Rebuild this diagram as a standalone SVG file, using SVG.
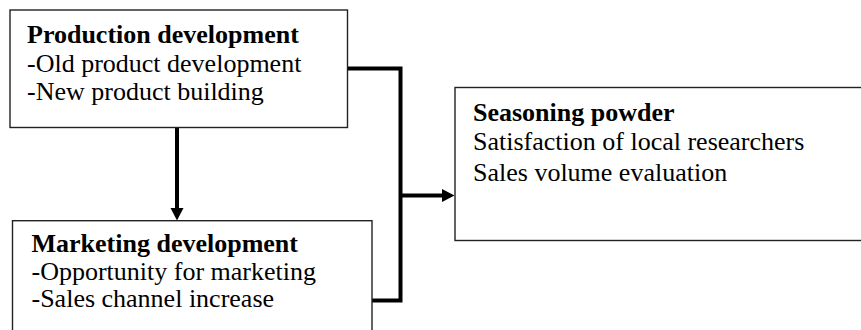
<svg xmlns="http://www.w3.org/2000/svg" width="861" height="330" viewBox="0 0 861 330">
<defs>
<style>
.box{fill:#fff;stroke:#222;stroke-width:1.4}
.t{font-family:'Liberation Serif','Times New Roman','DejaVu Serif',serif;font-size:26px;fill:#000}
.b{font-weight:bold}
.c{fill:none;stroke:#000;stroke-width:4;stroke-linejoin:miter;stroke-linecap:butt}
</style>
<marker id="ah" markerUnits="userSpaceOnUse" markerWidth="14" markerHeight="14" refX="0.5" refY="6.5" orient="auto">
<polygon points="0,0 12.5,6.5 0,13" fill="#000"/>
</marker>
</defs>
<rect width="861" height="330" fill="#fff"/>
<g id="connectors">
<path class="c" d="M348,68.5 H400.5 V300.5 H372"/>
<path class="c" d="M177,128 V208.5" marker-end="url(#ah)"/>
<path class="c" d="M400.5,195.5 H442.5" marker-end="url(#ah)"/>
</g>
<g id="production">
<rect class="box" x="10" y="10" width="337.5" height="117.5"/>
<text class="t b" x="27" y="43" font-family="Liberation Serif, serif">Production development</text>
<text class="t" x="27" y="72" font-family="Liberation Serif, serif">-Old product development</text>
<text class="t" x="27" y="100" font-family="Liberation Serif, serif">-New product building</text>
</g>
<g id="marketing">
<rect class="box" x="12.5" y="220.7" width="359.5" height="130"/>
<text class="t b" x="31.5" y="252">Marketing development</text>
<text class="t" x="31.5" y="280">-Opportunity for marketing</text>
<text class="t" x="31.5" y="307">-Sales channel increase</text>
</g>
<g id="seasoning">
<rect class="box" x="455" y="87.5" width="420" height="153"/>
<text class="t b" x="473" y="121">Seasoning powder</text>
<text class="t" x="473" y="150">Satisfaction of local researchers</text>
<text class="t" x="473" y="181">Sales volume evaluation</text>
</g>
</svg>
